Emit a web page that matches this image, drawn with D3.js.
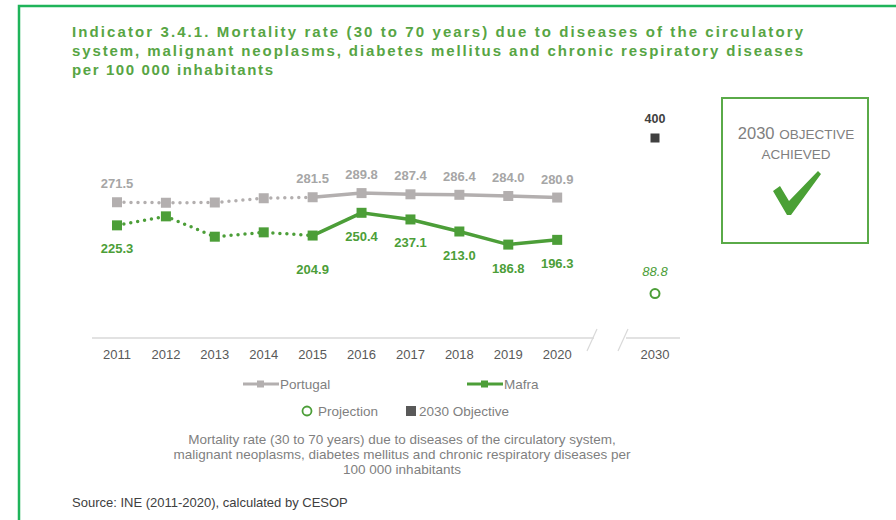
<!DOCTYPE html>
<html>
<head>
<meta charset="utf-8">
<script src="https://cdn.jsdelivr.net/npm/d3@7"></script>
<style>
  body { margin: 0; background: #fff; }
  svg { display: block; font-family: "Liberation Sans", Arial, sans-serif; }
</style>
</head>
<body>
<svg id="chart" width="896" height="520"></svg>
<script>
"use strict"
// Indicator 3.4.1 - premature mortality, Portugal vs Mafra

var years = [2011, 2012, 2013, 2014, 2015, 2016, 2017, 2018, 2019, 2020],
    portugal = [271.5, 270.5, 271.0, 279.5, 281.5, 289.8, 287.4, 286.4, 284.0, 280.9],
    mafra = [225.3, 243.3, 202.6, 211.3, 204.9, 250.4, 237.1, 213.0, 186.8, 196.3],
    portugalLabelled = [2011, 2015, 2016, 2017, 2018, 2019, 2020],
    mafraLabelled = [2011, 2015, 2016, 2017, 2018, 2019, 2020],
    targetYear = 2030,
    projection = 88.8,
    objective = 400,
    titleLines = [
      "Indicator 3.4.1. Mortality rate (30 to 70 years) due to diseases of the circulatory",
      "system, malignant neoplasms, diabetes mellitus and chronic respiratory diseases",
      "per 100 000 inhabitants"
    ],
    captionLines = [
      "Mortality rate (30 to 70 years) due to diseases of the circulatory system,",
      "malignant neoplasms, diabetes mellitus and chronic respiratory diseases per",
      "100 000 inhabitants"
    ];

var svg = d3.select("svg#chart"),
    grey = "#b3afaf",
    green = "#4c9e38",
    frame = "#1fb45a";

// position index: years -> 0..9, 2030 sits two steps after 2020 (axis break)
function xIndex(y) { return y === targetYear ? years.length + 1 : years.indexOf(y); }
var x = d3.scaleLinear().domain([0, years.length + 1]).range([117, 655]),
    y = d3.scaleLinear().domain([0, 400]).range([338, 138]);

// outer frame (top and left only)
svg.append("path")
    .attr("d", "M19,520 V6 H896")
    .attr("fill", "none")
    .attr("stroke", frame)
    .attr("stroke-width", 2.5);

// title
svg.append("g").selectAll("text")
    .data(titleLines)
  .enter().append("text")
    .attr("x", 72)
    .attr("y", function(d, i) { return 37 + i * 19; })
    .attr("textLength", function(d, i) { return i < 2 ? 731 : 201; })
    .attr("lengthAdjust", "spacing")
    .attr("fill", "#57a544")
    .style("font-family", "'Liberation Sans Narrow', 'Liberation Sans', Arial, sans-serif")
    .style("font-size", "15px")
    .style("font-weight", "bold")
    .text(function(d) { return d; });

// axis with break
var axisY = y(0);
svg.append("path")
    .attr("d", "M92," + axisY + " H594 M626," + axisY + " H680")
    .attr("stroke", "#d9d9d9").attr("stroke-width", 1.5).attr("fill", "none");
svg.append("path")
    .attr("d", "M587,351 L597,329 M618,351 L628,329")
    .attr("stroke", "#d9d9d9").attr("stroke-width", 1.2).attr("fill", "none");

svg.append("g").selectAll("text")
    .data(years.concat([targetYear]))
  .enter().append("text")
    .attr("x", function(d) { return x(xIndex(d)); })
    .attr("y", 359)
    .attr("text-anchor", "middle")
    .attr("fill", "#595959")
    .style("font-size", "13px")
    .text(function(d) { return d; });

// series
function drawSeries(vals, color) {
  var pts = years.map(function(yr, i) { return [x(i), y(vals[i])]; }),
      line = d3.line();
  svg.append("path")
      .attr("d", line(pts.slice(0, 5)))
      .attr("fill", "none").attr("stroke", color)
      .attr("stroke-width", 3.5).attr("stroke-linecap", "round")
      .attr("stroke-dasharray", "0,7");
  svg.append("path")
      .attr("d", line(pts.slice(4)))
      .attr("fill", "none").attr("stroke", color)
      .attr("stroke-width", 3.5);
  svg.append("g").selectAll("rect")
      .data(pts)
    .enter().append("rect")
      .attr("x", function(d) { return d[0] - 5; })
      .attr("y", function(d) { return d[1] - 5; })
      .attr("width", 10).attr("height", 10)
      .attr("fill", color);
}
drawSeries(portugal, grey);
drawSeries(mafra, green);

// value labels
svg.append("g").selectAll("text")
    .data(portugalLabelled)
  .enter().append("text")
    .attr("x", function(d) { return x(xIndex(d)); })
    .attr("y", function(d) { return y(portugal[years.indexOf(d)]) - 14; })
    .attr("text-anchor", "middle")
    .attr("fill", "#a6a6a6")
    .style("font-size", "13px").style("font-weight", "bold")
    .text(function(d) { return portugal[years.indexOf(d)].toFixed(1); });

svg.append("g").selectAll("text")
    .data(mafraLabelled)
  .enter().append("text")
    .attr("x", function(d) { return x(xIndex(d)); })
    .attr("y", function(d) { return y(mafra[years.indexOf(d)]) + (d === 2015 ? 38 : 28); })
    .attr("text-anchor", "middle")
    .attr("fill", green)
    .style("font-size", "13px").style("font-weight", "bold")
    .text(function(d) { return mafra[years.indexOf(d)].toFixed(1); });

// 2030 objective and projection
var tx = x(xIndex(targetYear));
svg.append("rect")
    .attr("x", tx - 4.5).attr("y", y(objective) - 4.5)
    .attr("width", 9).attr("height", 9)
    .attr("fill", "#404040");
svg.append("text")
    .attr("x", tx).attr("y", y(objective) - 15)
    .attr("text-anchor", "middle").attr("fill", "#404040")
    .style("font-size", "12.5px").style("font-weight", "bold")
    .text(objective);
svg.append("circle")
    .attr("cx", tx).attr("cy", y(projection)).attr("r", 4.5)
    .attr("fill", "#fff").attr("stroke", green).attr("stroke-width", 2);
svg.append("text")
    .attr("x", tx).attr("y", y(projection) - 18)
    .attr("text-anchor", "middle").attr("fill", green)
    .style("font-size", "13px").style("font-style", "italic")
    .text(projection.toFixed(1));

// objective achieved box
svg.append("rect")
    .attr("x", 722).attr("y", 98).attr("width", 146).attr("height", 145)
    .attr("fill", "none").attr("stroke", "#5aaa48").attr("stroke-width", 2);
var box = svg.append("text")
    .attr("x", 796).attr("y", 139)
    .attr("text-anchor", "middle").attr("fill", "#7f7f7f");
box.append("tspan").style("font-size", "16.5px").text("2030 ");
box.append("tspan").style("font-size", "13.5px").text("OBJECTIVE");
svg.append("text")
    .attr("x", 796).attr("y", 159)
    .attr("text-anchor", "middle").attr("fill", "#7f7f7f")
    .style("font-size", "13.5px")
    .text("ACHIEVED");
svg.append("path")
    .attr("d", "M773,191 L780,186 L789,201 L818,171 L821,174 L791,215 L787,215 Z")
    .attr("fill", "#4aa035");

// legend
var lg = svg.append("g").style("font-size", "13.5px").attr("fill", "#7f7f7f");
[[243, "Portugal", grey], [467, "Mafra", green]].forEach(function(d) {
  lg.append("line").attr("x1", d[0]).attr("x2", d[0] + 36).attr("y1", 384).attr("y2", 384)
    .attr("stroke", d[2]).attr("stroke-width", 3);
  lg.append("rect").attr("x", d[0] + 14).attr("y", 380.5).attr("width", 7).attr("height", 7)
    .attr("fill", d[2]);
  lg.append("text").attr("x", d[0] + 37).attr("y", 389).text(d[1]);
});
lg.append("circle").attr("cx", 307).attr("cy", 411).attr("r", 4.5)
  .attr("fill", "#fff").attr("stroke", green).attr("stroke-width", 1.8);
lg.append("text").attr("x", 318).attr("y", 416).text("Projection");
lg.append("rect").attr("x", 406).attr("y", 406).attr("width", 10).attr("height", 10)
  .attr("fill", "#595959");
lg.append("text").attr("x", 419).attr("y", 416).text("2030 Objective");

// caption
svg.append("g").selectAll("text")
    .data(captionLines)
  .enter().append("text")
    .attr("x", 402)
    .attr("y", function(d, i) { return 444 + i * 15; })
    .attr("text-anchor", "middle")
    .attr("fill", "#7f7f7f")
    .style("font-size", "13.5px")
    .text(function(d) { return d; });

// source
svg.append("text")
    .attr("x", 72).attr("y", 507)
    .attr("fill", "#404040")
    .style("font-size", "13px")
    .text("Source: INE (2011-2020), calculated by CESOP");
</script>
</body>
</html>
